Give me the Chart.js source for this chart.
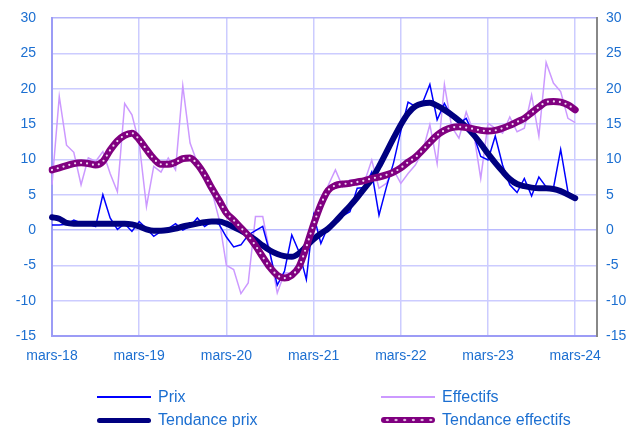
<!DOCTYPE html>
<html>
<head>
<meta charset="utf-8">
<script src="https://cdn.jsdelivr.net/npm/chart.js@4"></script>
<style>
  body { margin: 0; background: #fff; }
  #wrap { position: relative; width: 637px; height: 427px; }
  #chart { position: absolute; left: 0; top: 0; }
  .lg { position: absolute; height: 22px; display: flex; align-items: center;
        font: 16px "Liberation Sans", Arial, sans-serif; color: #1c6fd1; white-space: nowrap; }
  .lg .s { width: 54px; margin-right: 7px; }
</style>
</head>
<body>
<div id="wrap">
  <canvas id="chart" width="637" height="427"></canvas>
</div>
<script>
// Months, March 2018 to June 2024 (only March gets a label)
const moisNoms = ['janv', 'févr', 'mars', 'avr', 'mai', 'juin', 'juil', 'août', 'sept', 'oct', 'nov', 'déc'];
const annees = [18, 19, 20, 21, 22, 23, 24];
const categories = [];
annees.forEach(a => moisNoms.forEach((m, k) => {
    if ((a === 18 && k < 2) || (a === 24 && k > 5)) return;
    categories.push(m + '-' + a);
}));

// Monthly series (mars-18 .. mars-24)
const prix = [
    0.7, 0.7, 0.8, 1.4, 1.0, 0.8, 0.5, 5.0, 1.7, 0.1, 0.9, -0.2,
    1.2, 0.2, -0.9, -0.2, 0.2, 0.9, 0.0, 0.5, 1.7, 0.5, 1.2, 0.8,
    -1.0, -2.4, -2.1, -0.7, -0.1, 0.5, -3.3, -7.8, -5.8, -0.7, -3.1, -7.0,
    2.1, -1.9, 0.5, 1.4, 2.0, 2.6, 5.9, 6.0, 8.2, 2.1, 6.0, 9.5,
    14.0, 18.1, 17.5, 18.0, 20.6, 15.6, 17.9, 16.0, 15.1, 15.8, 13.5, 10.4,
    9.9, 13.3, 9.2, 6.4, 5.3, 7.3, 4.8, 7.5, 6.1, 5.9, 11.4, 5.4,
    4.6
];
const effectifs = [
    6.4, 18.9, 12.0, 11.0, 6.4, 10.2, 9.7, 11.1, 8.0, 5.4, 17.9, 16.3,
    12.3, 3.3, 9.0, 8.2, 10.2, 8.5, 20.4, 12.3, 9.5, 8.2, 5.5, 1.5,
    -5.0, -5.6, -9.0, -7.5, 1.9, 1.9, -3.3, -8.9, -6.1, -6.1, -6.0, -2.4,
    0.5, 4.2, 6.3, 8.5, 6.1, 7.1, 7.0, 6.8, 9.9, 5.9, 6.6, 8.5,
    6.6, 8.0, 9.2, 11.1, 14.9, 9.4, 20.6, 14.6, 13.0, 16.7, 13.9, 7.3,
    15.1, 14.4, 13.7, 16.0, 13.9, 14.4, 19.1, 13.3, 23.7, 20.8, 19.6, 15.8,
    15.2
];
const tendancePrix = [
    1.8, 1.6, 1.0, 0.9, 0.9, 0.9, 0.9, 0.9, 0.9, 0.9, 0.9, 0.8,
    0.5, 0.1, -0.1, -0.1, 0.0, 0.2, 0.5, 0.7, 0.9, 1.1, 1.2, 1.2,
    0.9, 0.4, -0.1, -0.7, -1.4, -2.2, -2.9, -3.4, -3.7, -3.8, -3.3, -2.3,
    -1.3, -0.5, 0.2, 1.2, 2.3, 3.4, 4.6, 5.9, 7.2, 9.0, 11.0, 13.0,
    14.9, 16.5, 17.5, 17.9, 18.0, 17.6, 17.0, 16.3, 15.5, 14.6, 13.5, 12.2,
    10.8, 9.5, 8.3, 7.2, 6.5, 6.2, 6.0, 5.9, 5.9, 5.8, 5.5, 5.0,
    4.5
];
const tendanceEffectifs = [
    8.5, 8.8, 9.1, 9.4, 9.5, 9.4, 9.2, 9.7, 11.3, 12.6, 13.4, 13.7,
    12.8, 11.4, 10.1, 9.3, 9.3, 9.6, 10.1, 10.2, 9.3, 7.8, 5.9, 4.2,
    2.4, 1.4, 0.3, -0.8, -2.2, -3.8, -5.3, -6.4, -6.8, -6.4, -5.2, -2.4,
    0.8, 3.6, 5.6, 6.3, 6.5, 6.6, 6.8, 7.0, 7.3, 7.5, 7.8, 8.2,
    8.8, 9.6, 10.3, 11.3, 12.4, 13.4, 14.1, 14.5, 14.6, 14.5, 14.3, 14.1,
    14.0, 14.1, 14.4, 14.8, 15.3, 15.8, 16.6, 17.4, 18.1, 18.2, 18.1, 17.7,
    17.0
];

const yMin = -15, yMax = 30, yStep = 5;
const textColor = '#1c6fd1';
const gridColor = '#ccccff';
const tickFont = { family: '"Liberation Sans", Arial, sans-serif', size: 14 };

const chart = new Chart(document.getElementById('chart'), {
    type: 'line',
    data: {
        labels: categories,
        datasets: [
            {
                label: 'Prix', data: prix, order: 3,
                borderColor: '#0000ff', borderWidth: 1.5, tension: 0,
                legendSample: { height: '2px', background: '#0000ff' }
            },
            {
                label: 'Effectifs', data: effectifs, order: 4,
                borderColor: '#cc99ff', borderWidth: 1.5, tension: 0,
                legendSample: { height: '2px', background: '#cc99ff' }
            },
            {
                label: 'Tendance prix', data: tendancePrix, order: 2,
                borderColor: '#000080', borderWidth: 6,
                cubicInterpolationMode: 'monotone', borderCapStyle: 'round', borderJoinStyle: 'round',
                legendSample: { height: '5px', background: '#000080', borderRadius: '3px' }
            },
            {
                label: 'Tendance effectifs', data: tendanceEffectifs, order: 1,
                borderColor: '#800080', borderWidth: 7,
                cubicInterpolationMode: 'monotone', borderCapStyle: 'round', borderJoinStyle: 'round',
                legendSample: {
                    height: '6px', borderRadius: '3px', backgroundColor: '#800080',
                    backgroundImage: 'radial-gradient(circle, #e6c6e6 1px, rgba(0,0,0,0) 1.6px)',
                    backgroundSize: '8.7px 6px', backgroundPosition: '2px 0'
                }
            },
            {
                // white dots on top of the effectifs trend
                label: 'points', data: tendanceEffectifs, order: 0, noLegend: true,
                borderColor: '#f2daf2', borderWidth: 2.2, borderDash: [0, 6],
                cubicInterpolationMode: 'monotone', borderCapStyle: 'round'
            }
        ]
    },
    options: {
        responsive: false,
        animation: false,
        devicePixelRatio: 1,
        layout: { padding: { top: 18, left: 0, right: 0, bottom: 61 } },
        elements: { point: { radius: 0 } },
        plugins: { legend: { display: false }, tooltip: { enabled: false } },
        scales: {
            x: {
                ticks: {
                    autoSkip: false, maxRotation: 0, padding: 12,
                    color: textColor, font: tickFont,
                    callback: (v, i) => (i % 12 === 0 ? categories[i] : '')
                },
                grid: {
                    drawTicks: false, lineWidth: 1.5,
                    color: ctx => (ctx.index % 12 === 0 ? gridColor : 'rgba(0,0,0,0)')
                },
                border: { color: '#9c9cf6', width: 2 },
                afterFit: s => { s.height = 30; }
            },
            y: {
                min: yMin, max: yMax,
                ticks: { stepSize: yStep, padding: 16, color: textColor, font: tickFont },
                grid: {
                    drawTicks: false, lineWidth: 1.5,
                    color: ctx => (ctx.tick && ctx.tick.value === yMax ? '#b4b4fa' : ctx.tick && ctx.tick.value === 0 ? '#babaff' : gridColor)
                },
                border: { color: '#9c9cf6', width: 2 },
                afterFit: s => { s.width = 52; s.paddingTop = 0; s.paddingBottom = 0; }
            },
            y2: {
                position: 'right',
                min: yMin, max: yMax,
                ticks: { stepSize: yStep, padding: 9, color: textColor, font: tickFont },
                grid: { drawOnChartArea: false, drawTicks: false },
                border: { color: '#888888', width: 2 },
                afterFit: s => { s.width = 40; s.paddingTop = 0; s.paddingBottom = 0; }
            }
        }
    }
});

// Legend in two columns under the chart
const wrap = document.getElementById('wrap');
const legendCols = [97, 381];
const legendRows = [397, 420];
chart.data.datasets.filter(d => !d.noLegend).forEach((d, k) => {
    const item = document.createElement('div');
    item.className = 'lg';
    item.style.left = legendCols[k % 2] + 'px';
    item.style.top = (legendRows[Math.floor(k / 2)] - 11) + 'px';
    const s = document.createElement('span');
    s.className = 's';
    Object.assign(s.style, d.legendSample);
    const t = document.createElement('span');
    t.textContent = d.label;
    item.appendChild(s);
    item.appendChild(t);
    wrap.appendChild(item);
});
</script>
</body>
</html>
